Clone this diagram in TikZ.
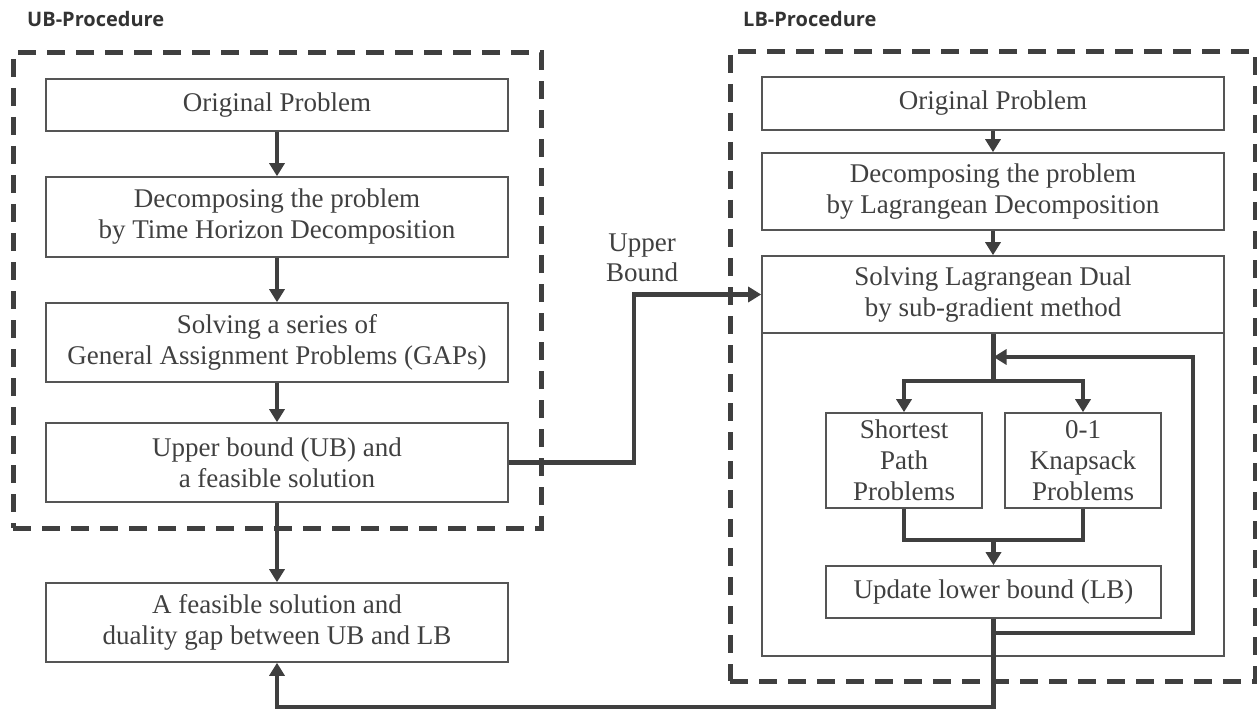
\documentclass[tikz,border=0pt]{standalone}
\usepackage{fontspec}
\setmainfont{Liberation Serif}
\newfontfamily\labfont{Open Sans}
\usetikzlibrary{arrows.meta}
\definecolor{txt}{HTML}{404040}
\definecolor{bord}{HTML}{555555}
\definecolor{conn}{HTML}{3F3F3F}
\begin{document}
\begin{tikzpicture}[x=1pt,y=-1pt,
  box/.style={draw=bord, line width=1.6pt, inner sep=0pt, align=center, text=txt,
    font=\fontsize{27}{31}\selectfont},
  dashbox/.style={draw=conn, line width=5pt, dash pattern=on 18pt off 11pt, inner sep=0pt},
  conline/.style={draw=conn, line width=4.5pt, line join=miter},
  arr/.style={conline, -{Triangle[width=15pt,length=13pt]}},
  title/.style={font=\labfont\bfseries\fontsize{20}{24}\selectfont, text=black!80, inner sep=0pt, anchor=base west}]
\useasboundingbox (0,0) rectangle (1257,711);

% titles
\node[title] (ubt) at (27,27) {UB-Procedure};
\node[title] (lbt) at (743,27) {LB-Procedure};

% dashed frames
\node[dashbox, minimum width=528pt, minimum height=475pt] (ubframe) at (277,290.5) {};
\node[dashbox, minimum width=525pt, minimum height=629pt] (lbframe) at (992.5,366.5) {};

% left column
\node[box, minimum width=462pt, minimum height=52pt] (lo) at (277,105) {Original Problem};
\node[box, minimum width=462pt, minimum height=80pt] (ld) at (277,217) {Decomposing the problem\\by Time Horizon Decomposition};
\node[box, minimum width=462pt, minimum height=79pt] (ls) at (277,342.5) {Solving a series of\\General Assignment Problems (GAPs)};
\node[box, minimum width=462pt, minimum height=79pt] (lu) at (277,462.5) {Upper bound (UB) and\\a feasible solution};
\node[box, minimum width=462pt, minimum height=79pt] (lf) at (277,622.5) {A feasible solution and\\duality gap between UB and LB};

% right column
\node[box, minimum width=462pt, minimum height=53pt] (ro) at (993,103.5) {Original Problem};
\node[box, minimum width=462pt, minimum height=77pt] (rd) at (993,191.5) {Decomposing the problem\\by Lagrangean Decomposition};
\node[box, minimum width=462pt, minimum height=400pt] (rbig) at (993,456) {};
\node[box, minimum width=462pt, minimum height=77pt] (rh) at (993,294.5) {Solving Lagrangean Dual\\by sub-gradient method};
\node[box, minimum width=156pt, minimum height=95pt] (rsp) at (904,460.5) {Shortest\\Path\\Problems};
\node[box, minimum width=156pt, minimum height=95pt] (rkn) at (1083,460.5) {0-1\\Knapsack\\Problems};
\node[box, minimum width=335pt, minimum height=52pt] (rup) at (993.5,592) {Update lower bound (LB)};

% label
\node[text=txt, align=center, inner sep=0pt, font=\fontsize{27}{30}\selectfont] (ubl) at (642,258) {Upper\\Bound};

% helper coordinates
\coordinate (ubk) at (634,0);
\coordinate (split) at (993.5,381);
\coordinate (merge) at (993.5,540);
\coordinate (lpb) at (993.5,633);
\coordinate (lpr) at (1193,633);
\coordinate (lpt) at (1193,357);
\coordinate (lpe) at (993.5,357);
\coordinate (bot) at (993.5,707);

% left connectors
\draw[arr] (lo.south) -- (ld.north);
\draw[arr] (ld.south) -- (ls.north);
\draw[arr] (ls.south) -- (lu.north);
\draw[arr] (lu.south) -- (lf.north);
\draw[arr] (lu.east) -- (lu.east -| ubk) -- (ubk |- rh.west) -- (rh.west);

% right connectors
\draw[arr] (ro.south) -- (rd.north);
\draw[arr] (rd.south) -- (rh.north);
\draw[conline] (rh.south -| split) -- (split);
\draw[arr] (split) -| (rsp.north);
\draw[arr] (split) -| (rkn.north);
\draw[conline] (rsp.south) |- (merge);
\draw[conline] (rkn.south) |- (merge);
\draw[arr] (merge) -- (rup.north -| merge);
\draw[arr] (rup.south -| lpb) -- (lpb) -- (lpr) -- (lpt) -- (lpe);
\draw[arr] (rup.south -| bot) -- (bot) -| (lf.south);
\end{tikzpicture}
\end{document}
